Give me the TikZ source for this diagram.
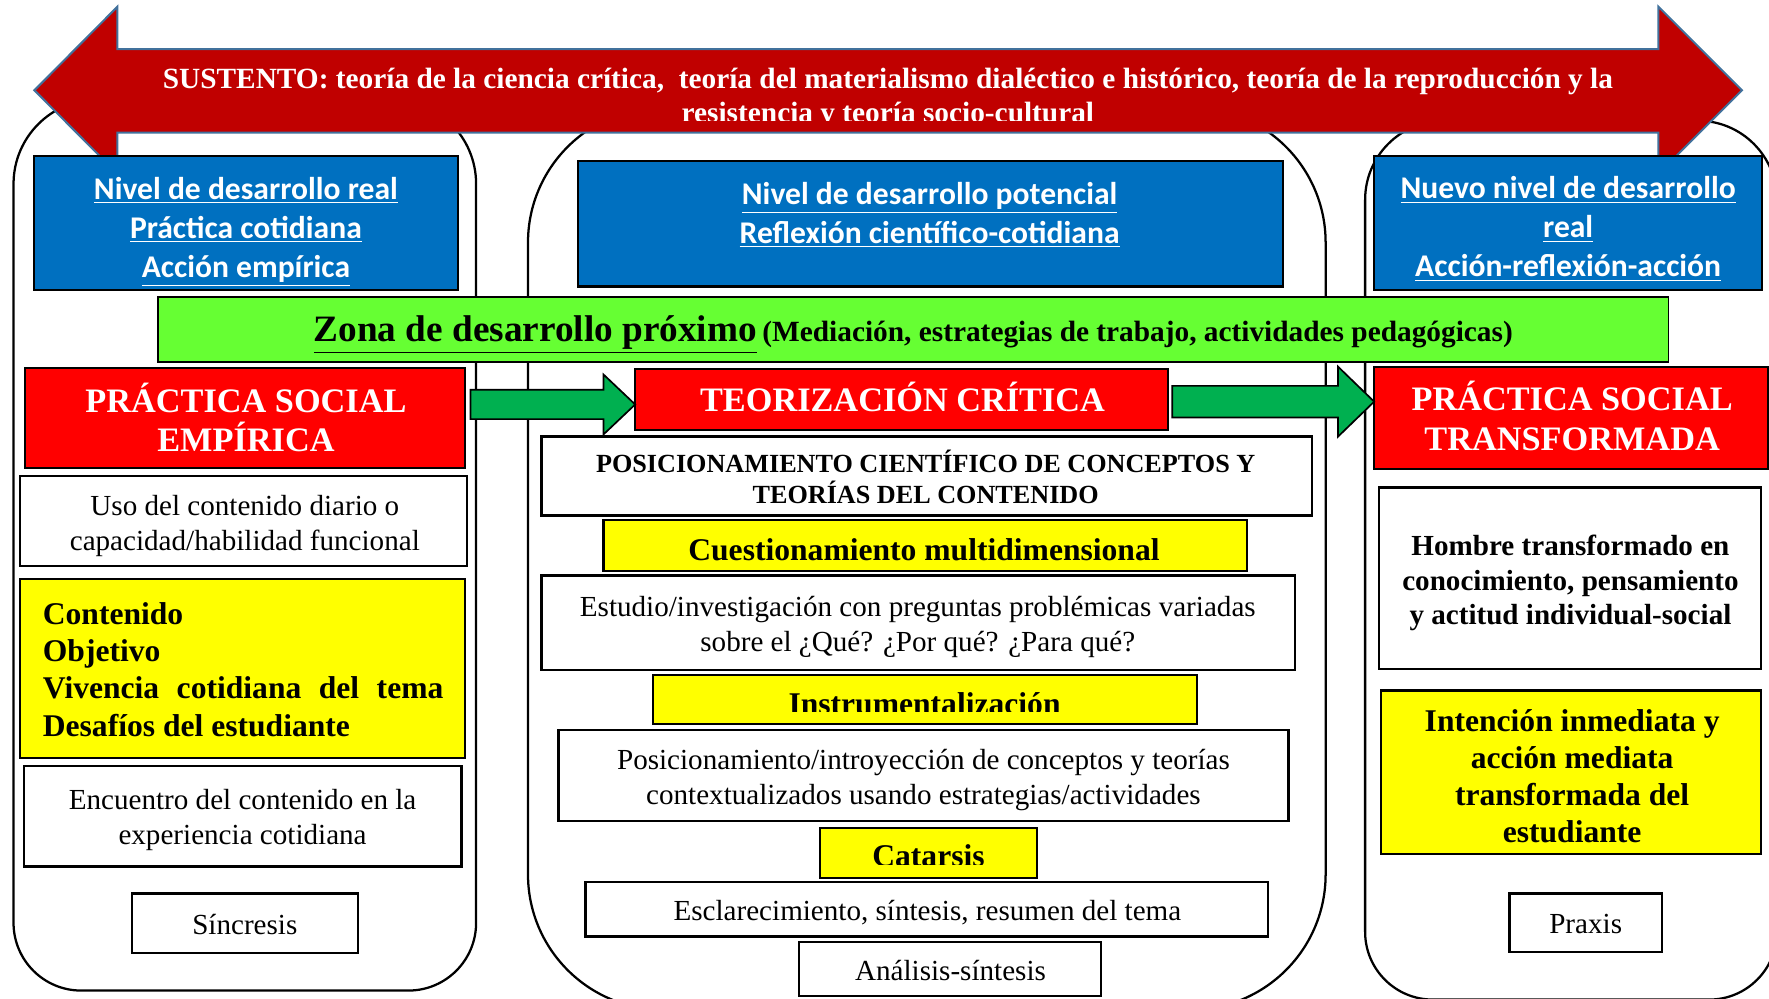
\documentclass[tikz,border=0pt]{standalone}
\usepackage{fontspec}
\setmainfont{Liberation Serif}
\newfontfamily\calibrifont{Carlito}
\usetikzlibrary{calc}
\definecolor{arrowred}{HTML}{C00000}
\definecolor{arrowedge}{HTML}{41719C}
\definecolor{boxblue}{HTML}{0070C0}
\definecolor{zonegreen}{HTML}{66FF33}
\definecolor{headred}{HTML}{FF0000}
\definecolor{arrgreen}{HTML}{00B050}
\definecolor{boxyellow}{HTML}{FFFF00}
\newcommand{\setfs}[2]{\fontsize{#1}{#2}\selectfont}
\begin{document}
\begin{tikzpicture}[x=0.5pt,y=-0.5pt,
 bx/.style={draw=black,line width=1pt,inner sep=0pt,outer sep=0pt},
 bluebx/.style={bx,fill=boxblue},
 redbx/.style={bx,fill=headred},
 whitebx/.style={bx,fill=white},
 yellowbx/.style={bx,fill=boxyellow},
 bluetxt/.style={text=white,align=center,inner sep=0pt,font=\calibrifont\bfseries\setfs{14}{17.25}},
 redtxt/.style={text=white,align=center,inner sep=0pt,font=\bfseries\setfs{15.2}{17.5}},
 plaintxt/.style={align=center,inner sep=0pt,font=\setfs{12.9}{15.6}},
 boldtxt/.style={align=center,inner sep=0pt,font=\bfseries\setfs{12.9}{15.25}},
 yeltxt/.style={align=center,inner sep=0pt,font=\bfseries\setfs{14}{16.3}},
 titletxt/.style={text=white,anchor=base,inner sep=0pt,font=\bfseries\setfs{13}{15.25}},
 container/.style={draw=black,line width=1pt,fill=white},
 garrow/.style={draw=black,line width=0.75pt,fill=arrgreen},
]
\useasboundingbox (0,0) rectangle (1568,884.6);
\clip (0,0) rectangle (1568,884.6);

% containers
\draw[container] (12,500) [rounded corners=37.5pt] -- (12,88) -- (422,88) -- (422,500) [rounded corners=30pt] -- (422,878) -- (12,878) -- cycle;
\draw[container, rounded corners=60pt] (468,95) rectangle (1175,895);
\draw[container] (1210,500) [rounded corners=35pt] -- (1210,107) -- (1575,107) -- (1575,500) [rounded corners=30pt] -- (1575,886) -- (1210,886) -- cycle;

% double red arrow
\draw[fill=arrowred, draw=arrowedge, line width=0.9pt] (30.5,80) -- (104,6) -- (104,43.5) -- (1470,43.5) -- (1470,6) -- (1544,80) -- (1470,154) -- (1470,117.5) -- (104,117.5) -- (104,154) -- cycle;
\begin{scope}
\clip (104,43.5) rectangle (1470,107);
\node[titletxt] (title1) at (787,78) {SUSTENTO: teoría de la ciencia crítica, \ teoría del materialismo dialéctico e histórico, teoría de la reproducción y la};
\node[titletxt] (title2) at (787,108.5) {resistencia y teoría socio-cultural};
\end{scope}

% blue boxes
\node[bluebx, minimum width=188pt, minimum height=59.5pt] (blue1) at (218,197.5) {};
\node[bluetxt] (blue1t) at (218,205.5) {\underline{Nivel de desarrollo real}\\\underline{Práctica cotidiana}\\\underline{Acción empírica}};
\node[bluebx, minimum width=312.5pt, minimum height=55.5pt] (blue2) at (824.5,198.5) {};
\node[bluetxt] (blue2t) at (824,190.5) {\underline{Nivel de desarrollo potencial}\\\underline{Reflexión científico-cotidiana}};
\node[bluebx, minimum width=172pt, minimum height=59.5pt] (blue3) at (1390,197.5) {};
\node[bluetxt] (blue3t) at (1390,203) {\underline{Nuevo nivel de desarrollo}\\\underline{real}\\\underline{Acción-reflexión-acción}};

% green zone bar
\node[bx, fill=zonegreen, line width=0.75pt, minimum width=669.5pt, minimum height=29pt] (zone) at (809.5,292) {};
\node[anchor=base, inner sep=0pt, font=\bfseries] (zonet) at (809.5,303) {{\setfs{16.5}{18}\underline{Zona de desarrollo próximo}} {\setfs{13}{15}(Mediación, estrategias de trabajo, actividades pedagógicas)}};

% red headings
\node[redbx, minimum width=195pt, minimum height=44.5pt] (red1) at (217,370.5) {};
\node[redtxt] (red1t) at (218,370) {PRÁCTICA SOCIAL\\EMPÍRICA};
\node[redbx, minimum width=236pt, minimum height=27pt] (red2) at (799,354) {};
\node[redtxt] (red2t) at (800,352) {TEORIZACIÓN CRÍTICA};
\node[redbx, minimum width=174.5pt, minimum height=45.5pt] (red3) at (1392.5,370.5) {};
\node[redtxt] (red3t) at (1393.5,368.5) {PRÁCTICA SOCIAL\\TRANSFORMADA};

% green arrows
\coordinate (a1s) at ($(red1.east)+(5,-12)$);
\coordinate (a1e) at (red2.west |- a1s);
\draw[garrow] let \p1=(a1s), \p2=(a1e) in
  (\x1,\y1+6.5pt) -- (\x2-14pt,\y1+6.5pt) -- (\x2-14pt,\y1+13.25pt) -- (\x2,\y1) -- (\x2-14pt,\y1-13.25pt) -- (\x2-14pt,\y1-6.5pt) -- (\x1,\y1-6.5pt) -- cycle;
\coordinate (a2s) at ($(red2.east)+(4,2)$);
\coordinate (a2e) at (red3.west |- a2s);
\draw[garrow] let \p1=(a2s), \p2=(a2e) in
  (\x1,\y1+7pt) -- (\x2-16pt,\y1+7pt) -- (\x2-16pt,\y1+15.5pt) -- (\x2,\y1) -- (\x2-16pt,\y1-15.5pt) -- (\x2-16pt,\y1-7pt) -- (\x1,\y1-7pt) -- cycle;

% left column
\node[whitebx, minimum width=198pt, minimum height=40pt] (w1) at (216,462) {};
\node[plaintxt] (w1t) at (217,466) {Uso del contenido diario o\\capacidad/habilidad funcional};
\node[yellowbx, minimum width=197pt, minimum height=79.5pt] (y1) at (215,592.5) {};
\node[align=left, inner sep=0pt, font=\bfseries\setfs{14}{16.5}] (y1t) at (215.5,593.5) {Contenido\\Objetivo\\\makebox[177.5pt][s]{Vivencia cotidiana del tema}\\Desafíos del estudiante};
\node[whitebx, minimum width=194pt, minimum height=44.5pt] (w2) at (215,723.5) {};
\node[plaintxt] (w2t) at (215,727) {Encuentro del contenido en la\\experiencia cotidiana};
\node[whitebx, minimum width=100pt, minimum height=26.5pt] (w3) at (217,818.5) {};
\node[plaintxt] (w3t) at (217,819.5) {Síncresis};

% middle column
\node[whitebx, minimum width=341.5pt, minimum height=35pt] (w4) at (821.5,422) {};
\node[align=center, inner sep=0pt, font=\bfseries\setfs{11.6}{13.5}] (w4t) at (820.5,422.5) {POSICIONAMIENTO CIENTÍFICO DE CONCEPTOS Y\\TEORÍAS DEL CONTENIDO};
\node[yellowbx, minimum width=285pt, minimum height=22.5pt] (y2) at (820,483.5) {};
\node[anchor=base, inner sep=0pt, font=\bfseries\setfs{14}{16}] (y2t) at (819,497) {Cuestionamiento multidimensional};
\node[whitebx, minimum width=334pt, minimum height=42pt] (w5) at (814,552) {};
\node[plaintxt] (w5t) at (813.5,555.5) {Estudio/investigación con preguntas problémicas variadas\\sobre el ¿Qué? ¿Por qué? ¿Para qué?};
\node[yellowbx, minimum width=241pt, minimum height=22pt] (y3) at (820,620) {};
\begin{scope}
\clip (579,598) rectangle (1061,631);
\node[anchor=base, inner sep=0pt, font=\bfseries\setfs{14}{16}] (y3t) at (819.5,633) {Instrumentalización};
\end{scope}
\node[whitebx, minimum width=323.5pt, minimum height=40.5pt] (w6) at (818.5,687.5) {};
\node[plaintxt] (w6t) at (818.5,691.5) {Posicionamiento/introyección de conceptos y teorías\\contextualizados usando estrategias/actividades};
\node[yellowbx, minimum width=96pt, minimum height=22pt] (y4) at (823,756) {};
\begin{scope}
\clip (727,734) rectangle (919,766.5);
\node[anchor=base, inner sep=0pt, font=\bfseries\setfs{14}{16}] (y4t) at (823,768) {Catarsis};
\end{scope}
\node[whitebx, minimum width=302.5pt, minimum height=24pt] (w7) at (821.5,806) {};
\node[plaintxt] (w7t) at (822,809) {Esclarecimiento, síntesis, resumen del tema};
\node[whitebx, minimum width=134pt, minimum height=24pt] (w8) at (842,859) {};
\node[plaintxt] (w8t) at (842.5,860.5) {Análisis-síntesis};

% right column
\node[whitebx, minimum width=169.5pt, minimum height=80.5pt] (w9) at (1391.5,512.5) {};
\node[boldtxt] (w9t) at (1392,517) {Hombre transformado en\\conocimiento, pensamiento\\y actitud individual-social};
\node[yellowbx, minimum width=168.5pt, minimum height=72.5pt] (y5) at (1392.5,684.5) {};
\node[yeltxt] (y5t) at (1393.5,688) {Intención inmediata y\\acción mediata\\transformada del\\estudiante};
\node[whitebx, minimum width=67.5pt, minimum height=26pt] (w10) at (1405.5,818) {};
\node[plaintxt] (w10t) at (1405.5,819) {Praxis};
\end{tikzpicture}
\end{document}
